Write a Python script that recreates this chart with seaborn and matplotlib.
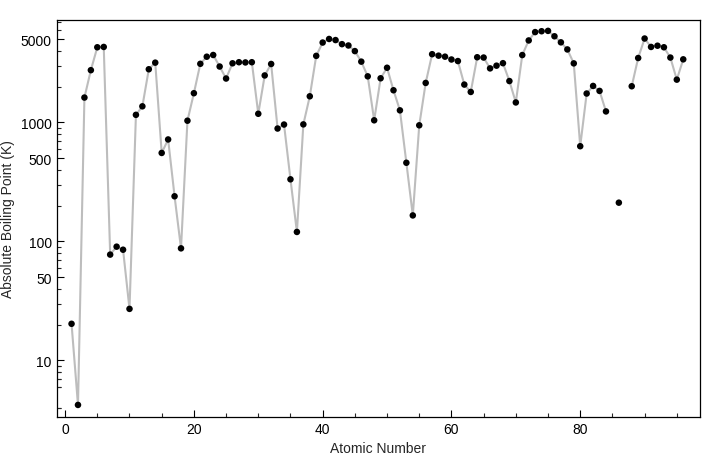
import numpy as np
import pandas as pd
import matplotlib
matplotlib.use("Agg")
import matplotlib.pyplot as plt
import matplotlib.ticker as mticker
import seaborn as sns

# Atomic numbers and boiling points (K); 85 and 87 missing
atomic_numbers = list(range(1, 85)) + [86] + list(range(88, 97))
boiling_points = [
    20.28, 4.22, 1615, 2743, 4273, 4300, 77.36, 90.2, 85.03, 27.07,
    1156, 1363, 2792, 3173, 553, 717.87, 239.11, 87.3, 1032, 1757,
    3103, 3560, 3680, 2944, 2334, 3134, 3200, 3186, 3200, 1180,
    2477, 3093, 887, 958, 332, 119.93, 961, 1655, 3618, 4682,
    5017, 4912, 4538, 4423, 3968, 3236, 2435, 1040, 2345, 2875,
    1860, 1261, 457.4, 165.1, 944, 2143, 3737, 3633, 3563, 3373,
    3273, 2076, 1800, 3523, 3503, 2840, 2993, 3141, 2223, 1469,
    3675, 4876, 5731, 5828, 5869, 5285, 4701, 4098, 3129, 629.88,
    1746, 2022, 1837, 1235,
    211.3,
    2010, 3471, 5061, 4300, 4404, 4273, 3501, 2284, 3383,
]
# contiguous line segments (gaps where elements are missing)
segments = [1 if z <= 84 else (2 if z == 86 else 3) for z in atomic_numbers]

y_major_ticks = [10, 50, 100, 500, 1000, 5000]
x_major_ticks = [0, 20, 40, 60, 80]

df = pd.DataFrame({"z": atomic_numbers, "bp": boiling_points, "seg": segments})

sns.set_style("white")
plt.rcParams["font.family"] = ["Liberation Sans", "DejaVu Sans"]

fig = plt.figure(figsize=(7.2, 4.56), dpi=100)
ax = fig.add_axes([0.0788, 0.0833, 0.8934, 0.8717])

lines_df = df[df["seg"] != 2]
sns.lineplot(data=lines_df, x="z", y="bp", units="seg", estimator=None,
             color="#bdbdbd", linewidth=1.5, ax=ax, sort=True)
sns.scatterplot(data=df, x="z", y="bp", color="black", s=22,
                edgecolor="none", ax=ax, zorder=3)

ax.set_yscale("log")
ax.set_xlim(-1.3, 98.6)
ax.set_ylim(3.34, 7310)

ax.yaxis.set_major_locator(mticker.FixedLocator(y_major_ticks))
ax.yaxis.set_major_formatter(mticker.FixedFormatter([str(v) for v in y_major_ticks]))
minor_y = []
for dec in [1, 10, 100, 1000]:
    for m in [2, 3, 4, 6, 7, 8, 9]:
        minor_y.append(m * dec)
minor_y += [3, 4, 6, 7, 8, 9]
ax.yaxis.set_minor_locator(mticker.FixedLocator(minor_y))
ax.yaxis.set_minor_formatter(mticker.NullFormatter())

ax.xaxis.set_major_locator(mticker.FixedLocator(x_major_ticks))
ax.xaxis.set_minor_locator(mticker.MultipleLocator(5))

ax.tick_params(axis="both", which="major", direction="in", length=5, width=0.8,
               labelsize=10, colors="black", bottom=True, left=True, top=False, right=False)
ax.tick_params(axis="both", which="minor", direction="in", length=3, width=0.8,
               bottom=True, left=True, top=False, right=False)

for sp in ax.spines.values():
    sp.set_color("black")
    sp.set_linewidth(0.9)

ax.set_xlabel("Atomic Number", fontsize=10, labelpad=4)
ax.set_ylabel("Absolute Boiling Point (K)", fontsize=10, labelpad=4)

fig.savefig("out.png", dpi=100)
